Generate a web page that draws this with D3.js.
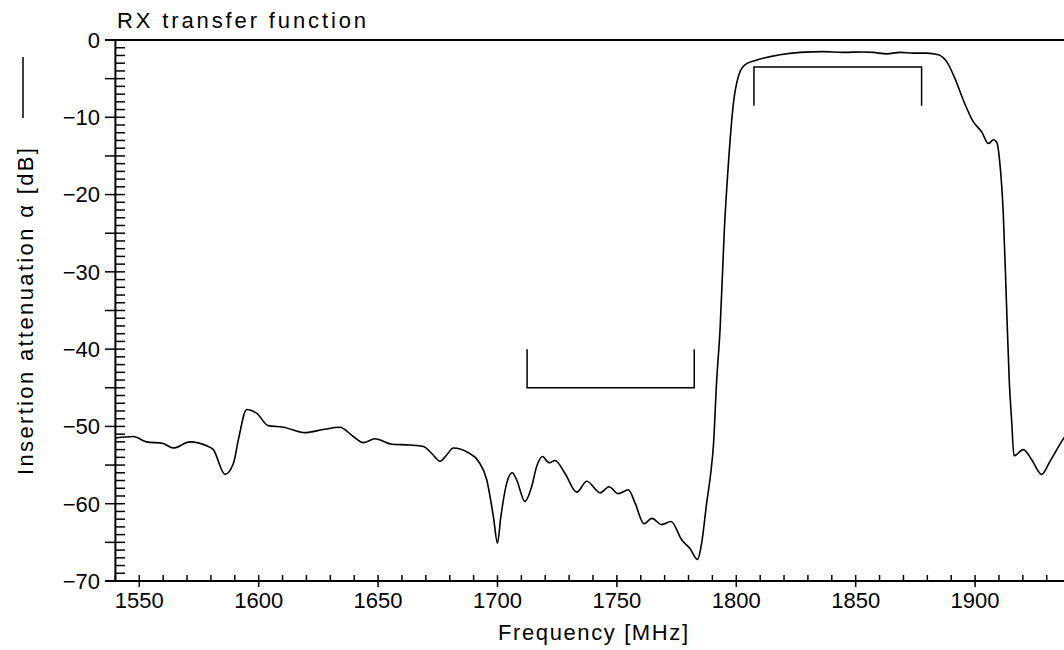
<!DOCTYPE html>
<html>
<head>
<meta charset="utf-8">
<script src="https://cdn.jsdelivr.net/npm/d3@7"></script>
<style>
  html, body { margin: 0; padding: 0; background: #fff; }
  svg { display: block; }
  text { font-family: "Liberation Sans", Arial, sans-serif; fill: #000; }
</style>
</head>
<body>
<svg id="chart" width="1064" height="650"></svg>
<script>
// ---- data ----
const title = "RX transfer function";
const xLabel = "Frequency  [MHz]";
const yLabel = "Insertion  attenuation  \u03b1  [dB]";

const xTickLabels = [1550, 1600, 1650, 1700, 1750, 1800, 1850, 1900];
const yTickLabels = [0, -10, -20, -30, -40, -50, -60, -70];

const freq = [1540, 1547.5, 1553, 1560, 1564.2, 1571.2, 1578.2, 1581, 1585.9, 1589.4, 1591.5, 1595, 1599.2, 1604,
  1610.3, 1619.4, 1627, 1634, 1639.6, 1643.8, 1648.7, 1655.7, 1663.4, 1669, 1672.5, 1676, 1678.7, 1681.5,
  1687.8, 1692, 1695.5, 1698.3, 1700, 1701.4, 1703.9, 1706.2, 1708, 1711.5, 1714.3, 1716.4, 1718.8, 1721.7,
  1724.1, 1728.3, 1733.2, 1737.4, 1743, 1746.7, 1750.6, 1754.8, 1757.6, 1761.4, 1764.6, 1768.8, 1772.7,
  1777.2, 1780.6, 1783.8, 1785.5, 1787.6, 1789.4, 1790.4, 1791.8, 1793.2, 1795, 1796.7, 1798.8, 1800.9,
  1803.7, 1808.6, 1818.3, 1826.7, 1836.4, 1844.8, 1853.2, 1857.4, 1863, 1868.6, 1874.1, 1879.7, 1884.6,
  1888.1, 1891.6, 1895.1, 1899.3, 1902.8, 1905.6, 1907.7, 1909, 1910.4, 1911.8, 1913.1, 1914.3, 1915.3,
  1916.3, 1920.2, 1923.7, 1927.9, 1931.4, 1937.2, 1940];
const atten = [-51.5, -51.3, -52.0, -52.2, -52.8, -52.0, -52.5, -53.0, -56.2, -54.8, -51.7, -47.8, -48.3, -49.9,
  -50.1, -50.8, -50.4, -50.1, -51.3, -52.1, -51.6, -52.3, -52.4, -52.6, -53.5, -54.5, -53.7, -52.8,
  -53.4, -54.5, -56.9, -61.7, -65.1, -61.7, -57.3, -56.0, -56.9, -59.7, -57.8, -55.2, -53.9, -54.7,
  -54.4, -56.1, -58.5, -57.1, -58.6, -57.8, -58.7, -58.2, -59.9, -62.6, -61.9, -62.7, -62.3,
  -64.7, -65.8, -67.2, -65.1, -59.9, -55.8, -52.6, -44.0, -37.5, -24.6, -16.0, -8.2, -4.7,
  -3.2, -2.6, -1.9, -1.6, -1.5, -1.6, -1.55, -1.6, -1.8, -1.6, -1.7, -1.7, -1.9,
  -2.8, -5.0, -7.8, -10.6, -11.9, -13.4, -12.9, -13.2, -16.0, -22.4, -33.6, -44.0, -49.2,
  -53.8, -53.0, -54.3, -56.2, -54.5, -51.5, -50.3];

// specification brackets: [f1, f2, dB of horizontal bar, dB of leg ends]
const stopBracket = [1712.4, 1782.4, -45, -40];
const passBracket = [1807.4, 1877.6, -3.5, -8.5];

// ---- drawing ----
const svg = d3.select("#chart");
const x = d3.scaleLinear().domain([1540, 1940]).range([115.4, 1070.6]);
const y = d3.scaleLinear().domain([-70, 0]).range([581, 40]);

const g = svg.append("g");

// top frame line
g.append("line").attr("x1", 105).attr("x2", 1070).attr("y1", y(0)).attr("y2", y(0))
  .attr("stroke", "#000").attr("stroke-width", 2);

// y axis line
g.append("line").attr("x1", x(1540)).attr("x2", x(1540)).attr("y1", y(0)).attr("y2", y(-70))
  .attr("stroke", "#000").attr("stroke-width", 2);
// x axis line
g.append("line").attr("x1", 105).attr("x2", 1070).attr("y1", y(-70)).attr("y2", y(-70))
  .attr("stroke", "#000").attr("stroke-width", 2);

// y ticks
const yTicks = d3.range(-70, 1, 1);
g.selectAll(".ytick").data(yTicks).join("line")
  .attr("x1", d => (d % 5 === 0) ? 105 : x(1540))
  .attr("x2", 125)
  .attr("y1", d => y(d)).attr("y2", d => y(d))
  .attr("stroke", "#000").attr("stroke-width", 1.5);

// x ticks
const xTicks = d3.range(1540, 1941, 10);
g.selectAll(".xtick").data(xTicks).join("line")
  .attr("x1", d => x(d)).attr("x2", d => x(d))
  .attr("y1", y(-70) - 6)
  .attr("y2", d => (d % 50 === 0) ? y(-70) + 6 : y(-70))
  .attr("stroke", "#000").attr("stroke-width", 1.5);

// tick labels
g.selectAll(".ylab").data(yTickLabels).join("text")
  .attr("x", 100).attr("y", d => y(d)).attr("dy", "0.36em")
  .attr("text-anchor", "end").attr("font-size", 22)
  .text(d => d === 0 ? "0" : "\u2212" + Math.abs(d));

g.selectAll(".xlab").data(xTickLabels).join("text")
  .attr("x", d => x(d)).attr("y", 608)
  .attr("text-anchor", "middle").attr("font-size", 22)
  .text(d => d);

// title and axis labels
g.append("text").attr("x", 117).attr("y", 28).attr("font-size", 22)
  .attr("textLength", 249).attr("lengthAdjust", "spacing").text(title);

g.append("text").attr("x", 498).attr("y", 640).attr("font-size", 22)
  .attr("textLength", 190).attr("lengthAdjust", "spacing").text(xLabel);

g.append("text").attr("transform", "translate(33,475) rotate(-90)")
  .attr("font-size", 22).attr("textLength", 327).attr("lengthAdjust", "spacing").text(yLabel);

// legend line next to y label
g.append("line").attr("x1", 23).attr("x2", 23).attr("y1", 57).attr("y2", 118)
  .attr("stroke", "#000").attr("stroke-width", 1.5);

// brackets
function bracket(b) {
  const [f1, f2, bar, legEnd] = b;
  const p = d3.path();
  p.moveTo(x(f1), y(legEnd)); p.lineTo(x(f1), y(bar)); p.lineTo(x(f2), y(bar)); p.lineTo(x(f2), y(legEnd));
  g.append("path").attr("d", p.toString()).attr("fill", "none").attr("stroke", "#000").attr("stroke-width", 1.5);
}
bracket(stopBracket);
bracket(passBracket);

// curve
const data = freq.map((f, i) => [f, atten[i]]);
const line = d3.line().x(d => x(d[0])).y(d => y(d[1])).curve(d3.curveMonotoneX);
g.append("path").datum(data).attr("d", line)
  .attr("fill", "none").attr("stroke", "#000").attr("stroke-width", 1.6);
</script>
</body>
</html>
